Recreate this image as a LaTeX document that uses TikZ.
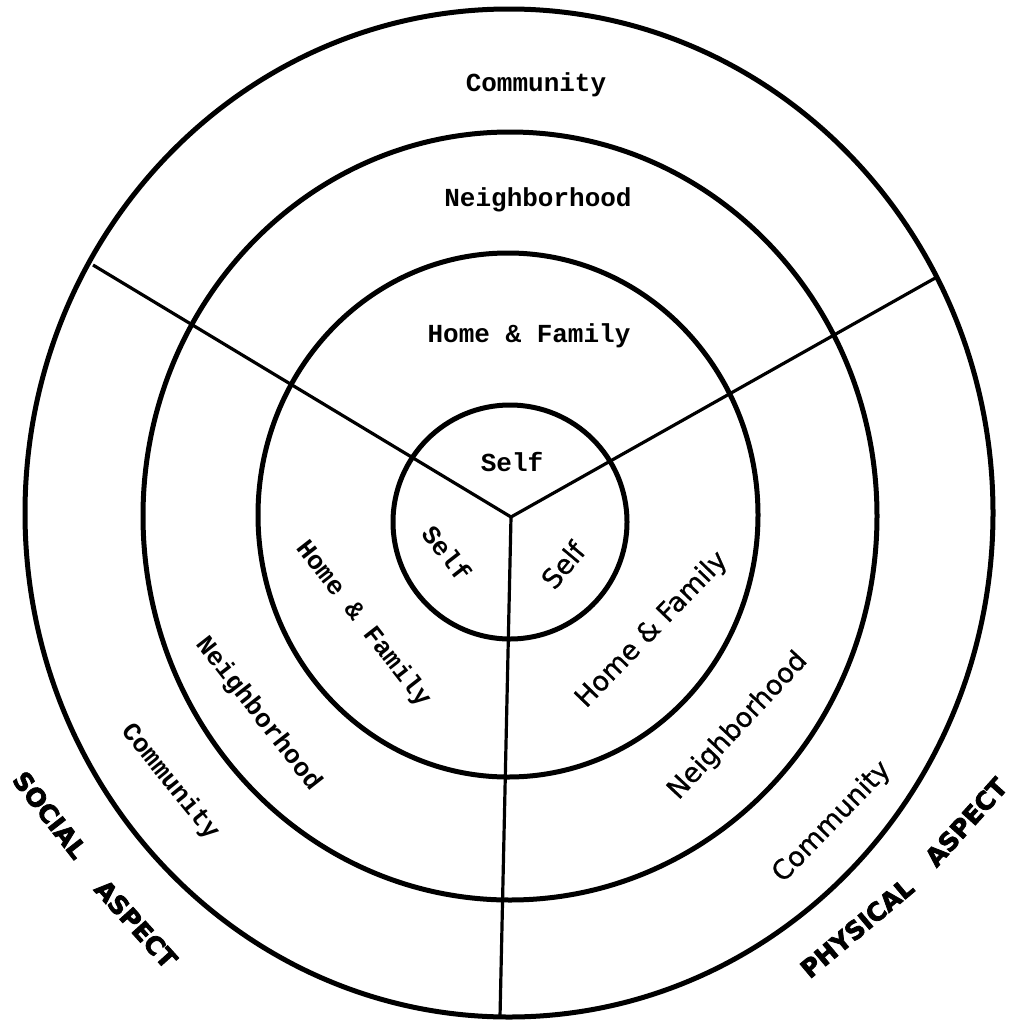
\documentclass[tikz,border=0pt]{standalone}
\usepackage{fontspec}
\newfontfamily\typewriterfont{Liberation Mono}
\newfontfamily\plainsans{DejaVu Sans}[FakeBold=0.8]
\newfontfamily\heavysans{DejaVu Sans}[BoldFeatures={FakeBold=3}]

\begin{document}
\begin{tikzpicture}[
    x=1pt, y=-1pt,
    ring/.style={
        draw=black,
        line width=5pt
    },
    spoke/.style={
        draw=black,
        line width=3.2pt
    },
    typed/.style={
        font=\typewriterfont\bfseries\fontsize{26}{30}\selectfont,
        inner sep=0pt
    },
    sanslabel/.style={
        font=\plainsans\fontsize{27}{30}\selectfont,
        inner sep=0pt
    },
    aspect/.style={
        font=\heavysans\bfseries\fontsize{25}{30}\selectfont,
        inner sep=0pt
    }
]
\useasboundingbox (0,0) rectangle (1017,1020);

% Hub and spoke ends
\coordinate (hub) at (511,517);
\coordinate (leftEnd) at (93,265);
\coordinate (rightEnd) at (937,277);
\coordinate (bottomEnd) at (500,1017);

% Spokes
\draw[spoke] (hub) -- (leftEnd);
\draw[spoke] (hub) -- (rightEnd);
\draw[spoke] (hub) -- (bottomEnd);

% Rings
\draw[ring] (509,513) ellipse [x radius=484pt, y radius=504pt];
\draw[ring] (510,516) ellipse [x radius=367pt, y radius=384pt];
\draw[ring] (508,515) ellipse [x radius=250pt, y radius=262pt];
\draw[ring] (510,522) circle [radius=117pt];

% Top sector
\node[typed] (commTop) at (536,85) {Community};
\node[typed] (nbhdTop) at (538,200) {Neighborhood};
\node[typed] (homeTop) at (529,336) {Home \& Family};
\node[typed] (selfTop) at (512,462) {Self};

% Social sector
\node[typed, rotate=-52] (selfLeft) at (447,553) {Self};
\node[typed, rotate=-52] (homeLeft) at (363,624) {Home \& Family};
\node[typed, rotate=-52] (nbhdLeft) at (258,714) {Neighborhood};
\node[typed, rotate=-51] (commLeft) at (170,782) {Community};

% Physical sector
\node[sanslabel, rotate=50] (selfRight) at (563,565) {Self};
\node[sanslabel, rotate=46] (homeRight) at (652,630) {Home \& Family};
\node[sanslabel, rotate=47] (nbhdRight) at (738,726) {Neighborhood};
\node[sanslabel, rotate=46] (commRight) at (832,822) {Community};

% Aspect titles
\node[aspect, rotate=-52] (socialWord) at (50,815) {SOCIAL};
\node[aspect, rotate=-48] (socialAspect) at (136,924) {ASPECT};
\node[aspect, rotate=40] (physicalWord) at (857,928) {PHYSICAL};
\node[aspect, rotate=48] (physicalAspect) at (966,822) {ASPECT};

\end{tikzpicture}
\end{document}
